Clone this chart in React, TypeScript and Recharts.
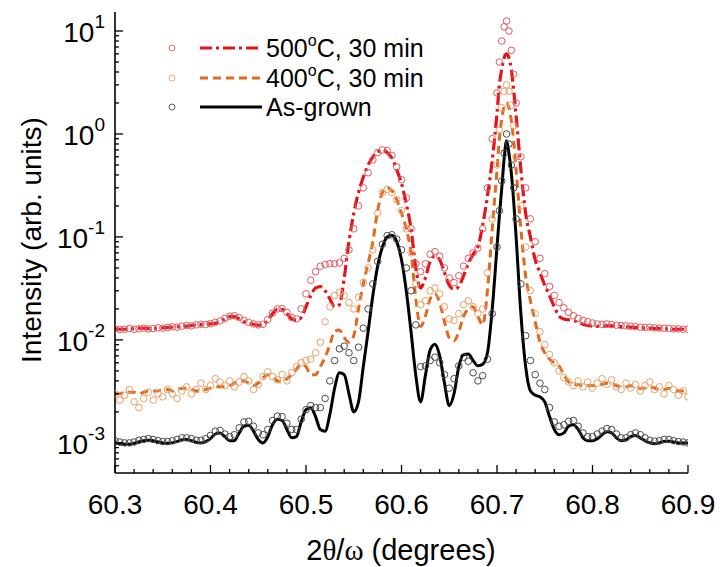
import React from "react";
import { ComposedChart, Line, Scatter, XAxis, YAxis } from "recharts";

// 2theta/omega positions (degrees)
const twoTheta = [
  60.3, 60.305, 60.31, 60.315, 60.32, 60.325, 60.33, 60.335, 60.34, 60.345,
  60.35, 60.355, 60.36, 60.365, 60.37, 60.375, 60.38, 60.385, 60.39, 60.395,
  60.4, 60.405, 60.41, 60.415, 60.42, 60.425, 60.43, 60.435, 60.44, 60.445,
  60.45, 60.455, 60.46, 60.465, 60.47, 60.475, 60.48, 60.485, 60.49, 60.495,
  60.5, 60.505, 60.51, 60.515, 60.52, 60.525, 60.53, 60.535, 60.54, 60.545,
  60.55, 60.555, 60.56, 60.565, 60.57, 60.575, 60.58, 60.585, 60.59, 60.595,
  60.6, 60.605, 60.61, 60.615, 60.62, 60.625, 60.63, 60.635, 60.64, 60.645,
  60.65, 60.655, 60.66, 60.665, 60.67, 60.675, 60.68, 60.685, 60.69, 60.695,
  60.7, 60.7025, 60.705, 60.7075, 60.71, 60.7125, 60.715, 60.7175, 60.72,
  60.725, 60.73, 60.735, 60.74, 60.745, 60.75, 60.755, 60.76, 60.765, 60.77,
  60.775, 60.78, 60.785, 60.79, 60.795, 60.8, 60.805, 60.81, 60.815, 60.82,
  60.825, 60.83, 60.835, 60.84, 60.845, 60.85, 60.855, 60.86, 60.865, 60.87,
  60.875, 60.88, 60.885, 60.89, 60.895, 60.9,
];

// 500°C, 30 min
const fit500 = [
  0.0128, 0.0127, 0.0127, 0.0128, 0.0129, 0.013, 0.013, 0.0129, 0.0129, 0.013,
  0.0131, 0.0132, 0.0133, 0.0134, 0.0135, 0.0136, 0.0138, 0.014, 0.0141, 0.0142,
  0.0143, 0.0145, 0.015, 0.016, 0.0168, 0.0168, 0.016, 0.015, 0.0145, 0.0142,
  0.0139, 0.014, 0.0155, 0.018, 0.0198, 0.0198, 0.018, 0.016, 0.0155, 0.0165,
  0.021, 0.027, 0.032, 0.033, 0.03, 0.025, 0.021, 0.022, 0.04, 0.09,
  0.17, 0.27, 0.38, 0.5, 0.6, 0.67, 0.7, 0.66, 0.58, 0.45,
  0.33, 0.21, 0.12, 0.05, 0.032, 0.04, 0.058, 0.065, 0.06, 0.045,
  0.034, 0.031, 0.033, 0.042, 0.055, 0.068, 0.08, 0.13, 0.25, 0.55,
  1.6, 3.0, 4.3, 5.5, 6.0, 5.5, 4.2, 2.6, 1.5,
  0.45, 0.17, 0.1, 0.06, 0.045, 0.034, 0.027, 0.021, 0.017, 0.016,
  0.0157, 0.0155, 0.0148, 0.0142, 0.0138, 0.0136, 0.0135, 0.0136, 0.0137, 0.0137,
  0.0136, 0.0135, 0.0134, 0.0133, 0.0132, 0.0131, 0.013, 0.013, 0.0129, 0.0129,
  0.0128, 0.0128, 0.0127, 0.0127, 0.0127, 0.0127,
];
const meas500 = [
  0.0128, 0.0126, 0.0127, 0.0129, 0.0127, 0.0128, 0.013, 0.0128, 0.0129, 0.0131,
  0.013, 0.0132, 0.0134, 0.0133, 0.0136, 0.0138, 0.0137, 0.014, 0.0142, 0.0141,
  0.0144, 0.0148, 0.0153, 0.0162, 0.017, 0.0172, 0.0165, 0.0155, 0.0148, 0.0143,
  0.014, 0.0142, 0.0158, 0.0182, 0.02, 0.0202, 0.0185, 0.0165, 0.016, 0.02,
  0.028, 0.038, 0.046, 0.052, 0.054, 0.055, 0.055, 0.056, 0.062, 0.075,
  0.12, 0.2, 0.3, 0.42, 0.56, 0.66, 0.7, 0.69, 0.62, 0.48,
  0.36, 0.24, 0.12, 0.055, 0.046, 0.055, 0.068, 0.072, 0.065, 0.05,
  0.04, 0.036, 0.042, 0.052, 0.062, 0.07, 0.078, 0.12, 0.3, 0.9,
  2.5, 5.0, 8.0, 11, 12.5, 10, 6.5, 3.8, 2.0,
  0.6, 0.3, 0.15, 0.09, 0.062, 0.044, 0.033, 0.027, 0.023, 0.0205,
  0.0185, 0.0172, 0.0162, 0.0155, 0.015, 0.0146, 0.0143, 0.0142, 0.0143, 0.0141,
  0.0139, 0.0138, 0.0137, 0.0136, 0.0134, 0.0133, 0.0132, 0.0133, 0.0131, 0.013,
  0.013, 0.0129, 0.0128, 0.0128, 0.0127, 0.0127,
];

// 400°C, 30 min
const fit400 = [
  3.0e-3, 3.0e-3, 3.1e-3, 3.1e-3, 3.1e-3, 3.0e-3, 3.1e-3, 3.2e-3, 3.2e-3, 3.2e-3,
  3.3e-3, 3.3e-3, 3.2e-3, 3.3e-3, 3.4e-3, 3.4e-3, 3.3e-3, 3.2e-3, 3.2e-3, 3.3e-3,
  3.4e-3, 3.5e-3, 3.5e-3, 3.5e-3, 3.6e-3, 3.8e-3, 4.0e-3, 4.0e-3, 3.8e-3, 3.6e-3,
  3.8e-3, 4.3e-3, 4.6e-3, 4.4e-3, 4.0e-3, 3.9e-3, 4.2e-3, 4.6e-3, 5.2e-3, 5.8e-3,
  5.5e-3, 4.6e-3, 4.6e-3, 5.5e-3, 6.8e-3, 9.0e-3, 0.0122, 0.0125, 0.0105, 9.5e-3,
  0.011, 0.02, 0.035, 0.055, 0.09, 0.18, 0.27, 0.3, 0.28, 0.23,
  0.17, 0.12, 0.07, 0.025, 0.0135, 0.017, 0.025, 0.028, 0.023, 0.015,
  0.0105, 0.0098, 0.012, 0.017, 0.02, 0.021, 0.017, 0.014, 0.03, 0.12,
  0.45, 0.9, 1.4, 1.85, 2.0, 1.8, 1.35, 0.85, 0.45,
  0.12, 0.042, 0.024, 0.015, 0.0095, 7.5e-3, 6.5e-3, 6.0e-3, 5.6e-3, 4.6e-3,
  3.9e-3, 3.7e-3, 3.7e-3, 3.6e-3, 3.6e-3, 3.6e-3, 3.6e-3, 3.7e-3, 3.8e-3, 3.75e-3,
  3.6e-3, 3.5e-3, 3.5e-3, 3.6e-3, 3.5e-3, 3.4e-3, 3.4e-3, 3.5e-3, 3.4e-3, 3.3e-3,
  3.3e-3, 3.4e-3, 3.3e-3, 3.2e-3, 3.2e-3, 3.2e-3,
];
const meas400 = [
  3.0e-3, 2.6e-3, 2.9e-3, 3.3e-3, 2.5e-3, 2.2e-3, 2.7e-3, 3.1e-3, 2.6e-3, 3.0e-3,
  2.8e-3, 3.3e-3, 3.0e-3, 2.7e-3, 3.2e-3, 3.5e-3, 3.0e-3, 3.3e-3, 3.8e-3, 3.3e-3,
  3.6e-3, 4.2e-3, 3.9e-3, 3.6e-3, 4.0e-3, 3.5e-3, 3.9e-3, 4.4e-3, 4.0e-3, 3.3e-3,
  3.7e-3, 4.4e-3, 4.9e-3, 4.4e-3, 4.1e-3, 4.6e-3, 4.0e-3, 4.8e-3, 5.5e-3, 6.0e-3,
  6.3e-3, 6.5e-3, 7.5e-3, 9.5e-3, 0.015, 0.021, 0.027, 0.029, 0.027, 0.023,
  0.02, 0.026, 0.036, 0.05, 0.075, 0.17, 0.27, 0.29, 0.27, 0.23,
  0.18, 0.12, 0.07, 0.035, 0.022, 0.024, 0.03, 0.032, 0.028, 0.021,
  0.016, 0.0155, 0.018, 0.022, 0.024, 0.021, 0.018, 0.02, 0.045, 0.15,
  0.5, 1.1, 1.8, 2.6, 3.0, 2.6, 1.9, 1.2, 0.6,
  0.2, 0.08, 0.03, 0.018, 0.012, 9.0e-3, 7.2e-3, 6.0e-3, 5.0e-3, 4.3e-3,
  3.9e-3, 3.6e-3, 4.0e-3, 3.5e-3, 3.9e-3, 3.4e-3, 3.8e-3, 4.2e-3, 3.7e-3, 4.1e-3,
  3.5e-3, 3.3e-3, 3.8e-3, 3.4e-3, 3.7e-3, 3.2e-3, 3.6e-3, 3.9e-3, 3.3e-3, 3.5e-3,
  3.0e-3, 3.6e-3, 3.3e-3, 2.9e-3, 3.2e-3, 2.8e-3,
];

// As-grown
const fitAsGrown = [
  1.0e-3, 0.98e-3, 0.97e-3, 0.97e-3, 0.99e-3, 1.02e-3, 1.05e-3, 1.06e-3, 1.05e-3, 1.02e-3,
  1.0e-3, 0.99e-3, 1.0e-3, 1.03e-3, 1.07e-3, 1.08e-3, 1.05e-3, 1.01e-3, 1.0e-3, 1.03e-3,
  1.1e-3, 1.22e-3, 1.25e-3, 1.15e-3, 1.05e-3, 1.05e-3, 1.25e-3, 1.45e-3, 1.48e-3, 1.3e-3,
  1.08e-3, 1.0e-3, 1.15e-3, 1.5e-3, 1.7e-3, 1.65e-3, 1.35e-3, 1.12e-3, 1.15e-3, 1.6e-3,
  2.1e-3, 2.2e-3, 1.8e-3, 1.35e-3, 1.3e-3, 1.9e-3, 3.4e-3, 4.8e-3, 4.6e-3, 3.0e-3,
  2.0e-3, 2.5e-3, 5.5e-3, 0.012, 0.027, 0.052, 0.08, 0.1, 0.104, 0.09,
  0.06, 0.03, 0.012, 4.5e-3, 2.5e-3, 4.5e-3, 8.0e-3, 9.1e-3, 7.0e-3, 3.8e-3,
  2.3e-3, 3.0e-3, 5.5e-3, 7.2e-3, 7.3e-3, 6.3e-3, 5.6e-3, 5.8e-3, 7.5e-3, 0.02,
  0.08, 0.16, 0.3, 0.58, 0.86, 0.65, 0.42, 0.22, 0.1,
  0.018, 5.5e-3, 3.2e-3, 2.9e-3, 2.8e-3, 2.5e-3, 1.8e-3, 1.35e-3, 1.2e-3, 1.25e-3,
  1.45e-3, 1.5e-3, 1.35e-3, 1.12e-3, 1.05e-3, 1.05e-3, 1.1e-3, 1.2e-3, 1.28e-3, 1.25e-3,
  1.12e-3, 1.05e-3, 1.07e-3, 1.15e-3, 1.18e-3, 1.12e-3, 1.05e-3, 1.0e-3, 0.98e-3, 1.0e-3,
  1.03e-3, 1.04e-3, 1.02e-3, 1.0e-3, 1.0e-3, 1.0e-3,
];
const measAsGrown = [
  1.05e-3, 1.02e-3, 1.0e-3, 1.0e-3, 1.02e-3, 1.06e-3, 1.08e-3, 1.1e-3, 1.08e-3, 1.05e-3,
  1.03e-3, 1.03e-3, 1.05e-3, 1.08e-3, 1.12e-3, 1.12e-3, 1.1e-3, 1.06e-3, 1.06e-3, 1.1e-3,
  1.18e-3, 1.3e-3, 1.32e-3, 1.22e-3, 1.15e-3, 1.2e-3, 1.4e-3, 1.6e-3, 1.62e-3, 1.45e-3,
  1.25e-3, 1.2e-3, 1.35e-3, 1.65e-3, 1.82e-3, 1.8e-3, 1.55e-3, 1.35e-3, 1.35e-3, 1.7e-3,
  2.1e-3, 2.3e-3, 2.2e-3, 2.2e-3, 2.7e-3, 4.0e-3, 6.3e-3, 8.2e-3, 8.7e-3, 7.5e-3,
  6.3e-3, 8.5e-3, 0.013, 0.02, 0.035, 0.058, 0.085, 0.103, 0.105, 0.095,
  0.075, 0.05, 0.03, 0.014, 5.5e-3, 5.6e-3, 6.3e-3, 6.8e-3, 6.0e-3, 4.6e-3,
  3.4e-3, 4.2e-3, 5.6e-3, 6.8e-3, 6.2e-3, 4.8e-3, 4.0e-3, 4.5e-3, 6.5e-3, 0.018,
  0.08, 0.18, 0.35, 0.65, 1.0, 0.8, 0.5, 0.3, 0.15,
  0.035, 0.011, 6.3e-3, 4.6e-3, 3.8e-3, 3.3e-3, 2.2e-3, 1.6e-3, 1.45e-3, 1.5e-3,
  1.62e-3, 1.65e-3, 1.45e-3, 1.25e-3, 1.15e-3, 1.15e-3, 1.22e-3, 1.3e-3, 1.38e-3, 1.35e-3,
  1.22e-3, 1.12e-3, 1.12e-3, 1.2e-3, 1.25e-3, 1.2e-3, 1.12e-3, 1.06e-3, 1.04e-3, 1.05e-3,
  1.08e-3, 1.08e-3, 1.05e-3, 1.03e-3, 1.02e-3, 1.0e-3,
];

const xMajor = [60.3, 60.4, 60.5, 60.6, 60.7, 60.8, 60.9];
const xTicks = [
  60.3, 60.32, 60.34, 60.36, 60.38, 60.4, 60.42, 60.44, 60.46, 60.48,
  60.5, 60.52, 60.54, 60.56, 60.58, 60.6, 60.62, 60.64, 60.66, 60.68,
  60.7, 60.72, 60.74, 60.76, 60.78, 60.8, 60.82, 60.84, 60.86, 60.88, 60.9,
];
const yMajor = [1e-3, 1e-2, 1e-1, 1, 10];
const yTicks = [
  6e-4, 7e-4, 8e-4, 9e-4,
  1e-3, 2e-3, 3e-3, 4e-3, 5e-3, 6e-3, 7e-3, 8e-3, 9e-3,
  1e-2, 2e-2, 3e-2, 4e-2, 5e-2, 6e-2, 7e-2, 8e-2, 9e-2,
  0.1, 0.2, 0.3, 0.4, 0.5, 0.6, 0.7, 0.8, 0.9,
  1, 2, 3, 4, 5, 6, 7, 8, 9, 10,
];

const rows = twoTheta.map((t, i) => ({
  t,
  fit500: fit500[i],
  meas500: meas500[i],
  fit400: fit400[i],
  meas400: meas400[i],
  fitAsGrown: fitAsGrown[i],
  measAsGrown: measAsGrown[i],
}));

const FONT = '"Liberation Sans", Arial, sans-serif';
const SERIF = '"Liberation Serif", serif';
const RED = "#e3141c";
const RED_PT = "#e25a60";
const ORANGE = "#e2691e";
const ORANGE_PT = "#e9a065";
const BLACK = "#000";
const GREY_PT = "#4a4a4a";

const near = (v: number, list: number[]) => list.some((m) => Math.abs(v - m) <= Math.abs(m) * 1e-6);

function LeftTick(props: any) {
  const { x, y, payload } = props;
  const major = near(payload.value, yMajor);
  const exp = Math.round(Math.log10(payload.value));
  return (
    <g>
      <line x1={x} x2={x + (major ? 8 : 4)} y1={y} y2={y} stroke="#000" strokeWidth={1.3} />
      {major && (
        <text x={x - 10} y={y + 11} textAnchor="end" fontSize={28} fontFamily={FONT} fill="#000">
          10<tspan dy={-14} fontSize={19}>{exp}</tspan>
        </text>
      )}
    </g>
  );
}

function RightTick(props: any) {
  const { x, y, payload } = props;
  const major = near(payload.value, yMajor);
  return <line x1={x} x2={x - (major ? 8 : 4)} y1={y} y2={y} stroke="#000" strokeWidth={1.3} />;
}

function BottomTick(props: any) {
  const { x, y, payload } = props;
  const major = near(payload.value, xMajor);
  return (
    <g>
      <line x1={x} x2={x} y1={y} y2={y - (major ? 8 : 4)} stroke="#000" strokeWidth={1.3} />
      {major && (
        <text x={x} y={y + 41} textAnchor="middle" fontSize={28} fontFamily={FONT} fill="#000">
          {payload.value.toFixed(1)}
        </text>
      )}
    </g>
  );
}

function TopTick(props: any) {
  const { x, y, payload } = props;
  const major = near(payload.value, xMajor);
  return <line x1={x} x2={x} y1={y} y2={y + (major ? 8 : 4)} stroke="#000" strokeWidth={1.3} />;
}

const ring = (color: string) => (p: any) =>
  p.cx == null || p.cy == null ? <g /> : (
    <circle cx={p.cx} cy={p.cy} r={3.3} fill="none" stroke={color} strokeWidth={1} />
  );

const legendRows = [
  { y: 48, line: RED, pt: RED_PT, dash: "12 4 3 4", main: "500", rest: "C, 30 min", sup: true },
  { y: 78, line: ORANGE, pt: ORANGE_PT, dash: "8 5", main: "400", rest: "C, 30 min", sup: true },
  { y: 107, line: BLACK, pt: GREY_PT, dash: undefined, main: "As-grown", rest: "", sup: false },
];

export default function App() {
  const axisLine = { stroke: "#000", strokeWidth: 1.6 };
  return (
    <div style={{ position: "absolute", left: 0, top: 0, width: 720, height: 567, background: "#fff" }}>
      <ComposedChart width={720} height={567} data={rows} margin={{ top: 12, right: 32, bottom: 0, left: 0 }}>
        <XAxis
          dataKey="t"
          type="number"
          domain={[60.3, 60.9]}
          allowDataOverflow
          ticks={xTicks}
          interval={0}
          tickLine={false}
          tickSize={0}
          tickMargin={0}
          tick={<BottomTick />}
          axisLine={axisLine}
          height={94}
        />
        <XAxis
          xAxisId="top"
          orientation="top"
          type="number"
          domain={[60.3, 60.9]}
          allowDataOverflow
          ticks={xTicks}
          interval={0}
          tickLine={false}
          tickSize={0}
          tickMargin={0}
          tick={<TopTick />}
          axisLine={axisLine}
          height={0}
        />
        <YAxis
          type="number"
          scale="log"
          domain={[5.1e-4, 15.3]}
          allowDataOverflow
          ticks={yTicks}
          interval={0}
          tickLine={false}
          tickSize={0}
          tickMargin={0}
          tick={<LeftTick />}
          axisLine={axisLine}
          width={115}
        />
        <YAxis
          yAxisId="right"
          orientation="right"
          type="number"
          scale="log"
          domain={[5.1e-4, 15.3]}
          allowDataOverflow
          ticks={yTicks}
          interval={0}
          tickLine={false}
          tickSize={0}
          tickMargin={0}
          tick={<RightTick />}
          axisLine={axisLine}
          width={0}
        />
        <Scatter dataKey="measAsGrown" shape={ring(GREY_PT)} isAnimationActive={false} />
        <Scatter dataKey="meas400" shape={ring(ORANGE_PT)} isAnimationActive={false} />
        <Scatter dataKey="meas500" shape={ring(RED_PT)} isAnimationActive={false} />
        <Line type="monotone" dataKey="fitAsGrown" stroke={BLACK} strokeWidth={3} dot={false} isAnimationActive={false} />
        <Line type="monotone" dataKey="fit400" stroke={ORANGE} strokeWidth={3} strokeDasharray="8 5" dot={false} isAnimationActive={false} />
        <Line type="monotone" dataKey="fit500" stroke={RED} strokeWidth={3.2} strokeDasharray="12 4 3 4" dot={false} isAnimationActive={false} />
      </ComposedChart>
      <svg width={720} height={567} style={{ position: "absolute", left: 0, top: 0, pointerEvents: "none" }}>
        {legendRows.map((r) => (
          <g key={r.main}>
            <circle cx={172} cy={r.y} r={3} fill="none" stroke={r.pt} strokeWidth={0.9} />
            <line x1={200} x2={262} y1={r.y} y2={r.y} stroke={r.line} strokeWidth={3} strokeDasharray={r.dash} />
            <text x={266} y={r.y + 9} fontSize={25} fontFamily={FONT} fill="#000">
              {r.main}
              {r.sup && (
                <tspan dy={-11} fontSize={16}>o</tspan>
              )}
              {r.sup && <tspan dy={11}>{r.rest}</tspan>}
            </text>
          </g>
        ))}
        <text
          x={0}
          y={0}
          transform="translate(41 240) rotate(-90)"
          textAnchor="middle"
          fontSize={28}
          fontFamily={FONT}
          fill="#000"
        >
          Intensity (arb. units)
        </text>
        <text x={401} y={560} textAnchor="middle" fontSize={29} fontFamily={FONT} fill="#000">
          2<tspan fontFamily={SERIF}>θ</tspan>/<tspan fontFamily={SERIF}>ω</tspan> (degrees)
        </text>
      </svg>
    </div>
  );
}
